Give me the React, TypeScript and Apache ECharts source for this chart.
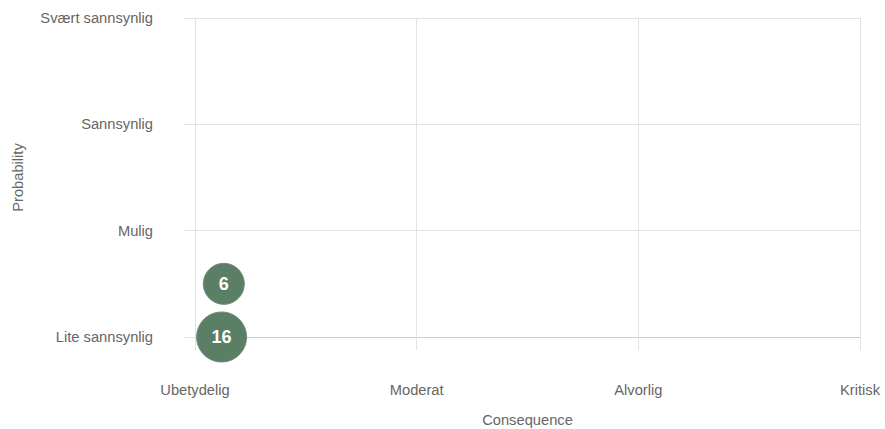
import React, { useEffect, useRef } from "react";
import * as echarts from "echarts";

const consequenceLabels = ["Ubetydelig", "Moderat", "Alvorlig", "Kritisk"];
const probabilityLabels = ["Lite sannsynlig", "Mulig", "Sannsynlig", "Svært sannsynlig"];
// [consequence position, probability position, count]
const bubbleX = [0.13, 0.12];
const bubbleY = [0.5, 0];
const bubbleCount = [6, 16];

export default function App() {
  const ref = useRef<HTMLDivElement>(null);
  useEffect(() => {
    if (!ref.current) return;
    const chart = echarts.init(ref.current, null, { renderer: "svg" });
    const font = "Liberation Sans, Arial, Helvetica, sans-serif";
    const gridColor = "#e3e3e3";
    const fs = 14.7;
    chart.setOption({
      animation: false,
      textStyle: { fontFamily: font },
      grid: {
        left: 195,
        right: 25,
        top: 18,
        bottom: 92,
        containLabel: false,
        outerBoundsMode: "none",
      },
      xAxis: {
        type: "value",
        min: 0,
        max: 3,
        interval: 1,
        name: "Consequence",
        nameLocation: "middle",
        nameGap: 75,
        nameTextStyle: { color: "#666", fontSize: fs, fontFamily: font },
        axisLine: { show: true, lineStyle: { color: "#cfcfcf" } },
        axisTick: { show: true, length: 13, lineStyle: { color: gridColor } },
        axisLabel: {
          margin: 45,
          color: "#666",
          fontSize: fs,
          fontFamily: font,
          formatter: (v: number) => consequenceLabels[Math.round(v)] ?? "",
        },
        splitLine: { show: true, lineStyle: { color: gridColor } },
      },
      yAxis: {
        type: "value",
        min: 0,
        max: 3,
        interval: 1,
        name: "Probability",
        nameLocation: "middle",
        nameGap: 170,
        nameTextStyle: { color: "#666", fontSize: fs, fontFamily: font },
        axisLine: { show: false },
        axisTick: { show: true, length: 11, lineStyle: { color: gridColor } },
        axisLabel: {
          margin: 42,
          color: "#666",
          fontSize: fs,
          fontFamily: font,
          formatter: (v: number) => probabilityLabels[Math.round(v)] ?? "",
        },
        splitLine: { show: true, lineStyle: { color: gridColor } },
      },
      series: [
        {
          type: "scatter",
          data: bubbleX.map((x, i) => [x, bubbleY[i], bubbleCount[i]]),
          symbolSize: (d: number[]) => 35.6 + 0.9 * d[2],
          itemStyle: { color: "#5a7f64", borderColor: "#6e8f76", borderWidth: 1, opacity: 1 },
          label: {
            show: true,
            position: "inside",
            formatter: (p: any) => String(p.value[2]),
            color: "#fff",
            fontSize: 18,
            fontWeight: "bold",
            fontFamily: font,
          },
          z: 5,
        },
      ],
    });
    return () => chart.dispose();
  }, []);
  return (
    <div
      ref={ref}
      style={{ position: "fixed", left: 0, top: 0, width: 885, height: 429, background: "#fff" }}
    />
  );
}
